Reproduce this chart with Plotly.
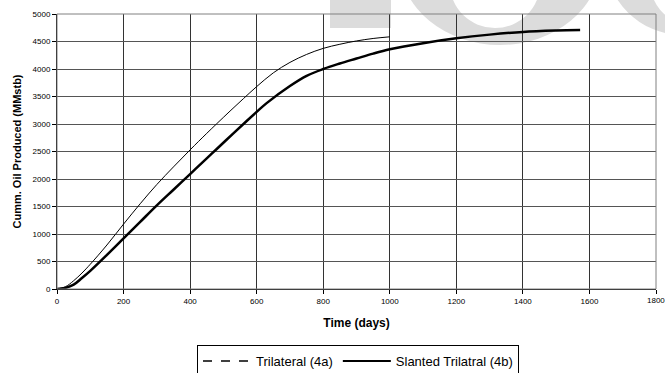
import plotly.graph_objects as go

# Trilateral (4a)
t_a = [0, 25, 50, 75, 100, 150, 200, 250, 300, 350, 400, 450, 480, 520, 560, 600, 650, 700, 750, 800, 850, 900, 950, 1000]
v_a = [0, 40, 150, 290, 450, 800, 1180, 1550, 1900, 2220, 2530, 2830, 3005, 3235, 3460, 3680, 3930, 4120, 4265, 4375, 4450, 4510, 4555, 4585]

# Slanted Trilatral (4b)
t_b = [0, 25, 50, 75, 100, 150, 200, 250, 300, 350, 400, 450, 480, 530, 570, 600, 630, 700, 750, 800, 850, 900, 950, 1000, 1100, 1200, 1300, 1400, 1500, 1572]
v_b = [0, 20, 80, 200, 330, 620, 920, 1220, 1520, 1805, 2090, 2375, 2545, 2830, 3055, 3220, 3380, 3690, 3875, 4000, 4100, 4190, 4280, 4358, 4470, 4558, 4625, 4675, 4700, 4709]

x_ticks = list(range(0, 1801, 200))
y_ticks = list(range(0, 5001, 500))

FONT = "Liberation Sans, Arial, sans-serif"

fig = go.Figure()
fig.add_trace(go.Scatter(x=t_a, y=v_a, mode="lines", line=dict(color="black", width=1),
                         showlegend=False, line_shape="spline"))
fig.add_trace(go.Scatter(x=t_b, y=v_b, mode="lines", line=dict(color="black", width=2.5),
                         showlegend=False, line_shape="spline"))
fig.add_trace(go.Scatter(x=[None], y=[None], mode="lines", name="Trilateral (4a)",
                         line=dict(color="black", width=1.5, dash="dash")))
fig.add_trace(go.Scatter(x=[None], y=[None], mode="lines", name="Slanted Trilatral (4b)",
                         line=dict(color="black", width=2)))

L, R, T, B = 57, 656, 14, 289
def px(x): return (x - L) / (R - L)
def py(y): return (B - y) / (B - T)

gray = "#dcdcdc"
shapes = [
    dict(type="rect", xref="paper", yref="paper", x0=px(330), x1=px(391), y0=py(28), y1=py(-5),
         fillcolor=gray, line_width=0, layer="below"),
    dict(type="circle", xref="paper", yref="paper", x0=px(400), x1=px(600), y0=py(45), y1=py(-120),
         fillcolor=gray, line_width=0, layer="below"),
    dict(type="circle", xref="paper", yref="paper", x0=px(450), x1=px(540), y0=py(28), y1=py(-60),
         fillcolor="white", line_width=0, layer="below"),
    dict(type="circle", xref="paper", yref="paper", x0=px(605), x1=px(760), y0=py(35), y1=py(-120),
         fillcolor=gray, line_width=0, layer="below"),
    dict(type="circle", xref="paper", yref="paper", x0=px(650), x1=px(720), y0=py(22), y1=py(-60),
         fillcolor="white", line_width=0, layer="below"),
    dict(type="rect", xref="paper", yref="paper", x0=0, x1=1, y0=0, y1=1,
         line=dict(color="#808080", width=1), layer="above"),
]

annotations = [
    dict(x=x_ticks[-1], y=0, xref="x", yref="paper", yshift=-5, text=str(x_ticks[-1]),
         showarrow=False, xanchor="center", yanchor="top", font=dict(size=8, family=FONT)),
]

fig.update_layout(
    width=665, height=373,
    margin=dict(l=57, r=9, t=14, b=84, autoexpand=False),
    paper_bgcolor="white", plot_bgcolor="rgba(0,0,0,0)",
    font=dict(family=FONT, color="black", size=8),
    shapes=shapes, annotations=annotations,
    legend=dict(orientation="h", x=px(197), xanchor="left", y=py(345), yanchor="top",
                bordercolor="black", borderwidth=1, font=dict(size=13, family=FONT),
                itemwidth=48, tracegroupgap=0),
    xaxis=dict(range=[0, 1800], tickvals=x_ticks, ticktext=[str(v) for v in x_ticks[:-1]] + [""],
               showgrid=True, gridcolor="#333333", gridwidth=1, zeroline=False,
               showline=True, linecolor="black", linewidth=1, ticks="outside", ticklen=4,
               tickcolor="black", tickfont=dict(size=8),
               title=dict(text="<b>Time (days)</b>", font=dict(size=12), standoff=14)),
    yaxis=dict(range=[0, 5000], tickvals=y_ticks, ticktext=[str(v) for v in y_ticks],
               showgrid=True, gridcolor="#555555", gridwidth=1, zeroline=False,
               showline=True, linecolor="black", linewidth=1, ticks="outside", ticklen=4,
               tickcolor="black", tickfont=dict(size=8),
               title=dict(text="<b>Cumm. Oil Produced (MMstb)</b>", font=dict(size=11), standoff=8)),
)

fig.write_html("out.html")
